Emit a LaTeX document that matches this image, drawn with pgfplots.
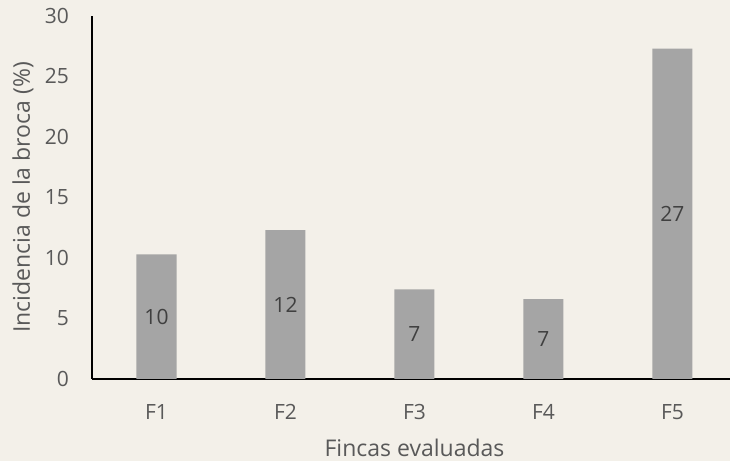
\documentclass[border=0pt]{standalone}
\usepackage{pgfplots}
\pgfplotsset{compat=1.18}
\usepackage{pgfplotstable}
\usepackage{fontspec}
\setmainfont{Open Sans}
\definecolor{bg}{RGB}{243,240,233}
\definecolor{barc}{RGB}{165,165,165}
\definecolor{txt}{RGB}{89,89,89}
\definecolor{lbl}{RGB}{64,64,64}
\pgfplotstableread{
x v
0 10.3
1 12.3
2 7.4
3 6.6
4 27.3
}\datatab
\begin{document}
\begin{tikzpicture}[x=1bp,y=1bp]
\path[fill=bg,use as bounding box] (0,0) rectangle (730,461);
\begin{axis}[
  at={(92bp,82bp)}, anchor=south west,
  scale only axis, width=638bp, height=363bp,
  xmin=-0.5, xmax=4.446, ymin=0, ymax=30,
  axis lines=left, axis line style={black, line width=1.5bp, -},
  xtick={0,1,2,3,4}, xticklabels={F1,F2,F3,F4,F5},
  ytick={0,5,10,15,20,25,30},
  major tick length=0pt,
  tick style={draw=none},
  /pgf/number format/assume math mode=true,
  ticklabel style={font=\fontsize{21bp}{25bp}\selectfont, text=txt, inner sep=0pt},
  xticklabel style={anchor=center, yshift=-33bp},
  yticklabel style={anchor=east, xshift=-23bp},
  every axis y label/.style={at={(axis description cs:-0.1082,0.5)}, rotate=90, anchor=center},
  every axis x label/.style={at={(axis cs:2,0)}, yshift=-69bp, anchor=center},
  label style={font=\fontsize{23bp}{28bp}\selectfont, text=txt},
  xlabel={Fincas evaluadas},
  ylabel={Incidencia de la broca (\%)},
  clip=false,
]
\addplot[ybar, bar width=40bp, fill=barc, draw=none,
  visualization depends on={0.5*\thisrow{v} \as \halfv},
  point meta=explicit symbolic,
  nodes near coords={\pgfmathprintnumber[fixed,precision=0]{\pgfplotspointmeta}},
  every node near coord/.style={anchor=center, inner sep=0pt, font=\fontsize{21bp}{25bp}\selectfont, text=lbl, shift={(axis direction cs:0,-\halfv)}},
] table[x=x, y=v, meta=v] {\datatab};
\end{axis}
\end{tikzpicture}
\end{document}
